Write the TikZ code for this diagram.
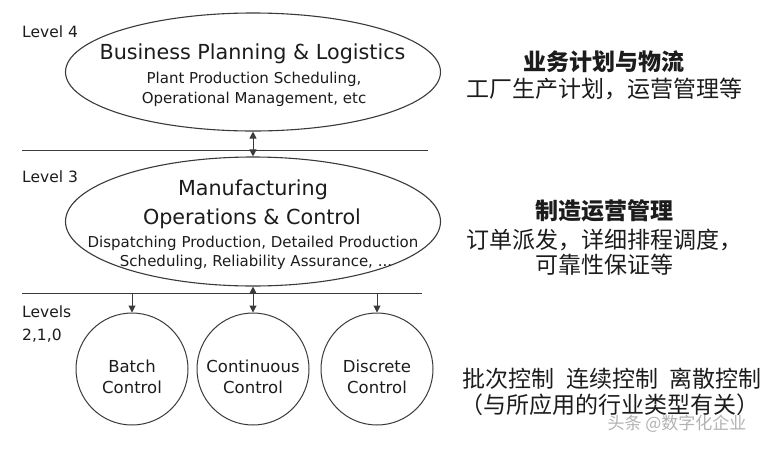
\documentclass[tikz,border=0pt]{standalone}
\usepackage{fontspec}
\setmainfont{DejaVu Sans}
\newfontfamily\cjk{Noto Sans CJK SC}
\usetikzlibrary{shapes.geometric,arrows.meta}
\definecolor{linec}{HTML}{3A3A3A}
\definecolor{textc}{HTML}{1C1C1C}
\tikzset{
  hline/.style={draw=linec, line width=1pt},
  ell/.style={ellipse, draw=linec, line width=1.1pt, inner sep=0pt, minimum width=375pt},
  circ/.style={circle, draw=linec, line width=1pt, minimum size=112pt, inner sep=0pt},
  arr/.style={draw=linec, line width=1pt, -{Triangle[length=7pt,width=7pt]}},
  darr/.style={draw=linec, line width=1pt, {Triangle[length=7pt,width=7pt]}-{Triangle[length=7pt,width=7pt]}},
  en/.style={text=textc, anchor=base, inner sep=0pt},
  enl/.style={text=textc, anchor=base west, inner sep=0pt, font=\fontsize{15.5}{18}\selectfont},
  big/.style={en, font=\fontsize{20.7}{25}\selectfont},
  small/.style={en, font=\fontsize{15}{18}\selectfont},
  ctext/.style={en, font=\fontsize{16.5}{20}\selectfont},
  cn/.style={text=textc, anchor=base, inner sep=0pt, font=\cjk\fontsize{23}{28}\selectfont},
  cnb/.style={text=textc, anchor=base, inner sep=0pt, font=\cjk\bfseries\fontsize{23}{28}\selectfont},
}
\begin{document}
\begin{tikzpicture}[x=1pt,y=-1pt]
\fill[white] (0,0) rectangle (770,448);
\useasboundingbox (0,0) rectangle (770,448);
% shapes
\node[ell, minimum height=118pt] (L4) at (253,72) {};
\node[ell, minimum height=129pt] (L3) at (253,221.5) {};
\node[circ] (batch) at (132,369) {};
\node[circ] (cont) at (253,369) {};
\node[circ] (disc) at (377,369) {};
% level lines
\coordinate (h1l) at (22,150); \coordinate (h1r) at (428,150);
\coordinate (h2l) at (22,293); \coordinate (h2r) at (422,293);
\coordinate (tb) at (132,293); \coordinate (td) at (377,293);
\draw[hline] (h1l) -- (h1r);
\draw[hline] (h2l) -- (h2r);
% connectors
\draw[darr] (L4.south) -- (L3.north);
\draw[darr] (L3.south) -- (cont.north);
\draw[arr] (tb) -- (batch.north);
\draw[arr] (td) -- (disc.north);
% level labels
\node[enl] (lv4) at (22,37) {Level 4};
\node[enl] (lv3) at (22,182) {Level 3};
\node[enl] (lv2a) at (22,317) {Levels};
\node[enl] (lv2b) at (22,340) {2,1,0};
% ellipse texts
\node[big] (t4a) at (252.5,59) {Business Planning \& Logistics};
\node[small] (t4b) at (254,83) {Plant Production Scheduling,};
\node[small] (t4c) at (254,103) {Operational Management, etc};
\node[big] (t3a) at (253,195) {Manufacturing};
\node[big] (t3b) at (252,224) {Operations \& Control};
\node[small] (t3c) at (253,247) {Dispatching Production, Detailed Production};
\node[small] (t3d) at (256,266) {Scheduling, Reliability Assurance, ...};
% circle texts
\node[ctext] (ba) at (132,372) {Batch};
\node[ctext] (bb) at (132,393) {Control};
\node[ctext] (ca) at (253,372) {Continuous};
\node[ctext] (cb) at (253,393) {Control};
\node[ctext] (da) at (377,372) {Discrete};
\node[ctext] (db) at (377,393) {Control};
% Chinese annotations
\node[cnb] (z4a) at (604,70) {业务计划与物流};
\node[cn] (z4b) at (604,97) {工厂生产计划，运营管理等};
\node[cnb] (z3a) at (604,219) {制造运营管理};
\node[cn] (z3b) at (604,248) {订单派发，详细排程调度，};
\node[cn] (z3c) at (604,273) {可靠性保证等};
\node[cn] (z2a) at (612,387) {批次控制\hspace{0.5em}连续控制\hspace{0.5em}离散控制};
\node[cn] (z2b) at (610,413) {（与所应用的行业类型有关）};
\node[text=gray!60, anchor=base, inner sep=0pt, font=\cjk\fontsize{17}{20}\selectfont] (wm) at (677,429.5) {头条 @数字化企业};
\end{tikzpicture}
\end{document}
